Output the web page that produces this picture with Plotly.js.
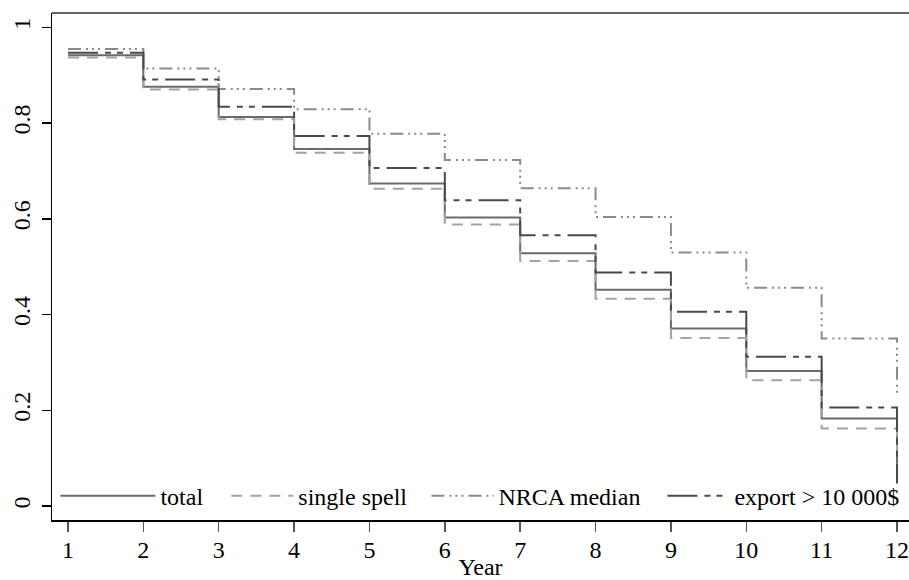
<!DOCTYPE html>
<html>
<head>
<meta charset="utf-8">
<script src="https://cdn.plot.ly/plotly-3.0.1.min.js"></script>
<style>html,body{margin:0;padding:0;background:#fff;}#chart{width:909px;height:580px;}</style>
</head>
<body>
<div id="chart"></div>
<script>
// Survival estimates by year (value after the step at each year)
const years = [1, 2, 3, 4, 5, 6, 7, 8, 9, 10, 11, 12];
const seriesNames = ["total", "single spell", "NRCA median", "export > 10 000$"];
const totalVals  = [0.942, 0.876, 0.813, 0.746, 0.674, 0.603, 0.528, 0.452, 0.371, 0.282, 0.183, 0.048];
const singleVals = [0.937, 0.870, 0.808, 0.738, 0.663, 0.588, 0.512, 0.433, 0.351, 0.263, 0.162, 0.048];
const nrcaVals   = [0.955, 0.914, 0.871, 0.829, 0.778, 0.723, 0.664, 0.604, 0.530, 0.456, 0.350, 0.230];
const exportVals = [0.947, 0.891, 0.834, 0.773, 0.706, 0.639, 0.566, 0.488, 0.406, 0.312, 0.206, 0.048];
const xTicks = [1, 2, 3, 4, 5, 6, 7, 8, 9, 10, 11, 12];
const yTicks = [0, 0.2, 0.4, 0.6, 0.8, 1];
const yTickText = ["0", "0.2", "0.4", "0.6", "0.8", "1"];

const FONT = "'Liberation Serif', 'Times New Roman', Times, 'DejaVu Serif', serif";
const styles = [
  {color: "#6a6a6a", dash: "solid"},
  {color: "#a3a3a3", dash: "11px,8px"},
  {color: "#8a8a8a", dash: "13px,5px,2px,4px,2px,4px,2px,5px"},
  {color: "#4a4a4a", dash: "30px,7px,6px,6px,6px,7px"}
];
const allVals = [totalVals, singleVals, nrcaVals, exportVals];
const legendIds = ["legend", "legend2", "legend3", "legend4"];
const legendX = [0.004, 0.2034, 0.4369, 0.7123];
const legendItemW = [95, 62, 62, 62];

const traces = allVals.map((v, i) => ({
  type: "scatter",
  mode: "lines",
  x: years,
  y: v,
  name: seriesNames[i],
  legend: legendIds[i],
  line: {shape: "hv", color: styles[i].color, width: 2, dash: styles[i].dash},
  hoverinfo: "skip"
}));

const layout = {
  width: 909,
  height: 580,
  margin: {l: 52, r: 0, t: 13, b: 60},
  paper_bgcolor: "#ffffff",
  plot_bgcolor: "#ffffff",
  font: {family: FONT, size: 24, color: "#000"},
  showlegend: true,
  xaxis: {
    range: [0.788, 12.159],
    tickvals: xTicks,
    ticktext: xTicks.map(String),
    showgrid: false,
    zeroline: false,
    showline: true,
    linecolor: "#000",
    linewidth: 2,
    ticks: "outside",
    ticklen: 10,
    tickwidth: 1.5,
    tickcolor: "#555",
    ticklabeloverflow: "allow",
    ticklabelstandoff: -3,
    tickfont: {family: FONT, size: 24, color: "#000"},
    title: {text: "Year", font: {family: FONT, size: 24, color: "#000"}, standoff: 9}
  },
  yaxis: {
    range: [-0.029, 1.030],
    tickvals: yTicks,
    ticktext: yTickText,
    tickangle: -90,
    showgrid: false,
    zeroline: false,
    showline: true,
    linecolor: "#000",
    linewidth: 1.5,
    ticks: "outside",
    ticklen: 9,
    tickwidth: 1.5,
    tickcolor: "#000",
    ticklabelstandoff: 2,
    tickfont: {family: FONT, size: 24, color: "#000"}
  },
  shapes: [
    {type: "line", xref: "paper", yref: "paper", x0: 0, x1: 1, y0: 1, y1: 1,
     line: {color: "#666", width: 2}}
  ]
};

legendIds.forEach((id, i) => {
  layout[id] = {
    orientation: "h",
    x: legendX[i], xanchor: "left",
    y: 0.047, yanchor: "middle",
    bgcolor: "rgba(0,0,0,0)",
    font: {family: FONT, size: 24, color: "#000"},
    itemwidth: legendItemW[i]
  };
});

Plotly.newPlot("chart", traces, layout, {displayModeBar: false, staticPlot: true});
</script>
</body>
</html>
